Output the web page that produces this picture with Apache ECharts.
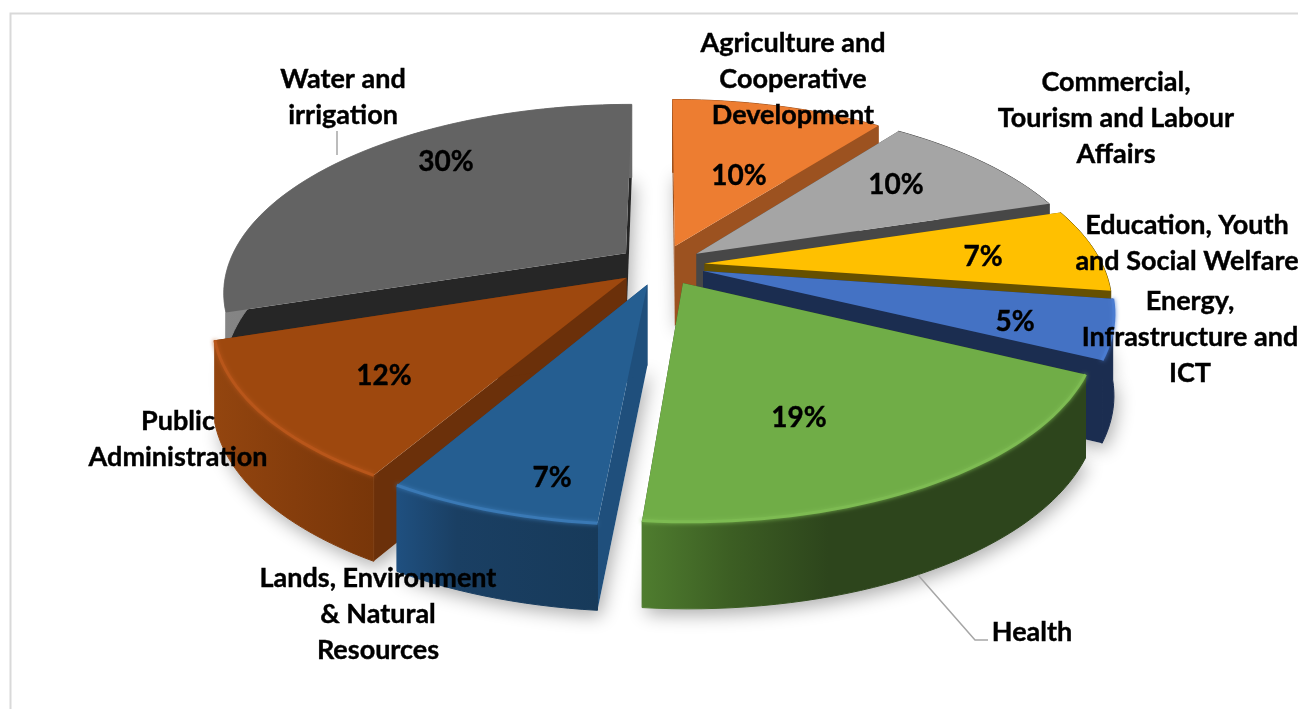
<!DOCTYPE html>
<html>
<head>
<meta charset="utf-8">
<title>Budget shares by sector</title>
<style>
html,body{margin:0;padding:0;background:#fff;overflow:hidden;}
#main{width:1298px;height:709px;}
</style>
<script src="https://cdn.jsdelivr.net/npm/echarts@6/dist/echarts.min.js"></script>
</head>
<body>
<div id="main"></div>
<script>
// data, clockwise from 12 o'clock
var categories = [
    'Agriculture and\nCooperative\nDevelopment',
    'Commercial,\nTourism and Labour\nAffairs',
    'Education, Youth\nand Social Welfare',
    'Energy,\nInfrastructure and\nICT',
    'Health',
    'Lands, Environment\n& Natural\nResources',
    'Public\nAdministration',
    'Water and\nirrigation'
];
// the labels show them rounded
var shares = [10.4, 9.8, 7.1, 4.9, 19.2, 6.9, 11.6, 30];

// colours of each slice
var topColors = ['#ed7d31', '#a5a5a5', '#ffc000', '#4472c4', '#70ad47', '#255e91', '#9e480e', '#636363'];
var sideColors = ['#9c5220', '#474747', '#665000', '#1b2d50', '#2d451c', '#1f4f7c', '#6b300a', '#262626'];
var wallStops = [
    [[0, '#9c5220'], [1, '#9c5220']],
    [[0, '#474747'], [1, '#474747']],
    [[0, '#665000'], [1, '#665000']],
    [[0, '#1b2d50'], [1, '#1b2d50']],
    [[0, '#4f7d2f'], [0.2, '#3c5e23'], [0.42, '#2d451c'], [1, '#2d451c']],
    [[0, '#1f5080'], [0.3, '#1a3f63'], [1, '#173a5a']],
    [[0, '#93450f'], [0.5, '#853d0c'], [1, '#783609']],
    [[0, '#858585'], [1, '#6b6b6b']]
];
// only the slices facing the viewer get a lit rim
var rimColors = [null, null, null, '#4a7bd0', '#7dbb52', '#3a79b5', '#b8561a', null];
// back slices are painted first
var paintOrder = [7, 0, 1, 2, 3, 6, 5, 4];

// where the texts sit
var labelPos = [[793, 79], [1116, 118], [1187, 243], [1190, 337], [1032, 632], [378, 614], [178, 439], [343, 97]];
var percentPos = [[739, 176], [896, 185], [983, 257], [1015, 322], [799, 418], [552, 478], [384, 376], [446, 162]];

// projection of the tilted disc
var cx = 661, cy = 265;
var radiusX = 398, radiusY = 183, persp = 0.2;
var explode = 0.11, depth = 80;
var fontName = 'Lato, Carlito, "Open Sans", sans-serif';

function project(u, v, low) {
    var s = 1 / (1 - persp * v);
    var y = cy + radiusY * v * s;
    if (low) {
        y += depth * (1 + 0.08 * v);
    }
    return [cx + radiusX * u * s, y];
}

function slicePoints(start, end, low) {
    var mid = (start + end) / 2;
    var ox = explode * Math.sin(mid), oy = -explode * Math.cos(mid);
    var arc = [];
    var steps = Math.max(2, Math.ceil((end - start) / 0.03));
    for (var i = 0; i <= steps; i++) {
        var t = start + (end - start) * i / steps;
        arc.push(project(ox + Math.sin(t), oy - Math.cos(t), low));
    }
    return { apex: project(ox, oy, low), arc: arc };
}

function renderSlice(params, api) {
    var i = params.dataIndex;
    var total = 0, before = 0;
    for (var n = 0; n < shares.length; n++) {
        total += shares[n];
        if (n < i) before += shares[n];
    }
    var start = before / total * Math.PI * 2;
    var end = (before + api.value(1)) / total * Math.PI * 2;
    var top = slicePoints(start, end, false);
    var bottom = slicePoints(start, end, true);
    var base = 10 + paintOrder.indexOf(i) * 10;
    var wallFill = new echarts.graphic.LinearGradient(0, 0, 1, 0, wallStops[i].map(function (s) {
        return { offset: s[0], color: s[1] };
    }));

    var children = [];
    // floor shadow
    children.push({
        type: 'polygon',
        shape: { points: [bottom.apex].concat(bottom.arc) },
        style: { fill: '#fff', shadowColor: 'rgba(0,0,0,0.32)', shadowBlur: 18, shadowOffsetX: 3, shadowOffsetY: 6 },
        z2: 1
    });
    // the two radial walls go under the outer wall
    var first = 0, last = top.arc.length - 1;
    children.push({
        type: 'polygon',
        shape: { points: [top.apex, top.arc[first], bottom.arc[first], bottom.apex] },
        style: { fill: sideColors[i] },
        z2: base + 1
    });
    children.push({
        type: 'polygon',
        shape: { points: [top.apex, top.arc[last], bottom.arc[last], bottom.apex] },
        style: { fill: sideColors[i] },
        z2: base + 1
    });
    // outer wall, the stroke hides the seam to the radial walls
    children.push({
        type: 'polygon',
        shape: { points: top.arc.concat(bottom.arc.slice().reverse()) },
        style: { fill: wallFill, stroke: wallFill, lineWidth: 1 },
        z2: base + 2
    });
    // top face and its lit rim
    children.push({
        type: 'polygon',
        shape: { points: [top.apex].concat(top.arc) },
        style: { fill: topColors[i] },
        z2: base + 3
    });
    if (rimColors[i]) {
        children.push({
            type: 'polyline',
            shape: { points: top.arc },
            style: { fill: null, stroke: rimColors[i], lineWidth: 3, shadowColor: rimColors[i], shadowBlur: 4 },
            z2: base + 4
        });
    }
    // category and percent text
    children.push({
        type: 'text',
        style: {
            text: categories[i], x: labelPos[i][0], y: labelPos[i][1],
            align: 'center', verticalAlign: 'middle', lineHeight: 36,
            font: 'bold 27px ' + fontName, fill: '#000', stroke: '#000', lineWidth: 0.4
        },
        z2: 200
    });
    children.push({
        type: 'text',
        style: {
            text: Math.round(api.value(1)) + '%', x: percentPos[i][0], y: percentPos[i][1],
            align: 'center', verticalAlign: 'middle',
            font: 'bold 28px ' + fontName, fill: '#000', stroke: '#000', lineWidth: 0.4
        },
        z2: 200
    });
    return { type: 'group', children: children };
}

var chart = echarts.init(document.getElementById('main'));
chart.setOption({
    animation: false,
    backgroundColor: '#fff',
    graphic: [
        // chart frame, runs off the right and bottom of the shot
        { type: 'polyline', shape: { points: [[10.5, 709], [10.5, 13.5], [1298, 13.5]] }, style: { fill: null, stroke: '#d9d9d9', lineWidth: 2 }, z: 0 },
        // leader lines
        { type: 'polyline', shape: { points: [[337, 131], [337, 155]] }, style: { fill: null, stroke: '#a6a6a6', lineWidth: 1.5 }, z: 5 },
        { type: 'polyline', shape: { points: [[918, 575], [975, 640], [988, 640]] }, style: { fill: null, stroke: '#a6a6a6', lineWidth: 1.5 }, z: 5 }
    ],
    series: [{
        type: 'custom',
        coordinateSystem: 'none',
        renderItem: renderSlice,
        silent: true,
        data: shares.map(function (v, i) { return [i, v]; })
    }]
});
</script>
</body>
</html>
